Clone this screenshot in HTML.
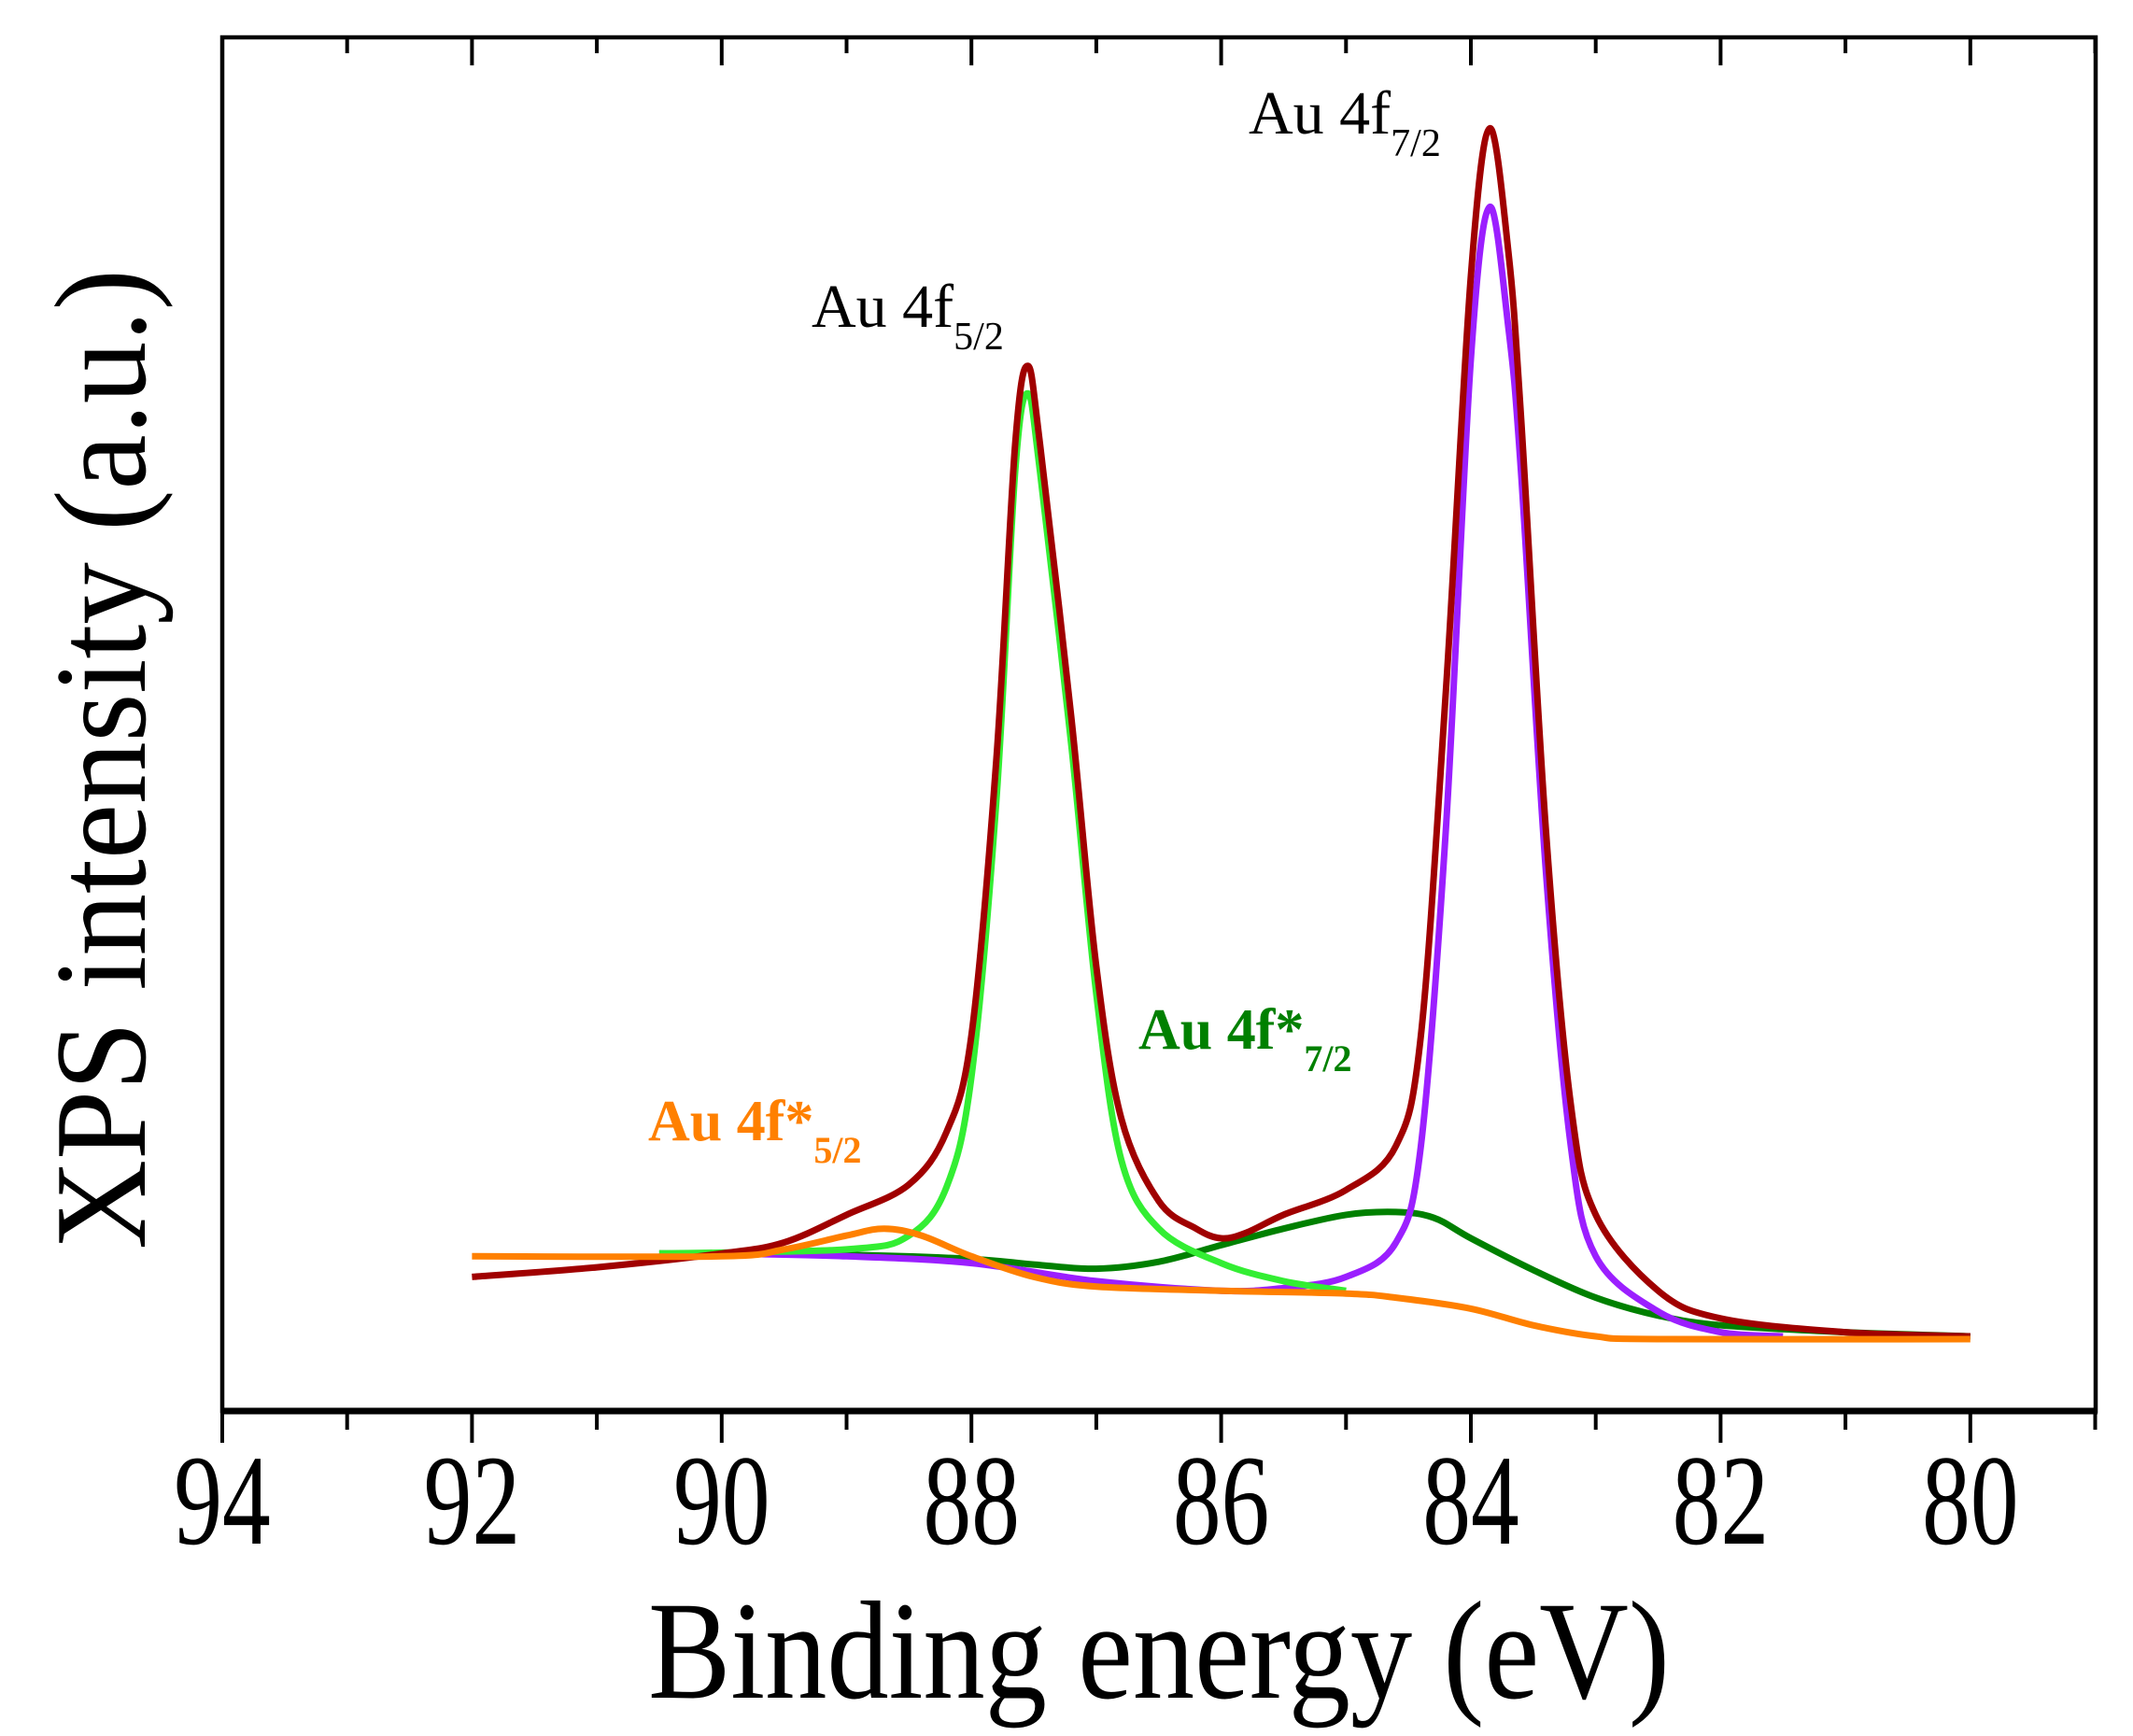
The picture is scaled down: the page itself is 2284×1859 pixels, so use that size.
<!DOCTYPE html>
<html><head><meta charset="utf-8"><style>
html,body{margin:0;padding:0;background:#fff}
svg{display:block}
</style></head><body>
<svg id="chart" width="2284" height="1859" viewBox="0 0 2284 1859" xmlns="http://www.w3.org/2000/svg" font-family="'Liberation Serif', serif">
<rect x="0" y="0" width="2284" height="1859" fill="#fff"/>
<g id="ticks"></g>
<g id="tick-labels"></g>
<g id="series"></g>
<rect x="238" y="40" width="2006" height="1471" fill="none" stroke="#000" stroke-width="4.5"/>
<line x1="236" y1="1511" x2="2246" y2="1511" stroke="#000" stroke-width="7"/>
<text x="1241" y="1818" font-size="150" text-anchor="middle" textLength="1094" lengthAdjust="spacingAndGlyphs">Binding energy (eV)</text>
<text transform="translate(155,813) rotate(-90)" font-size="140" text-anchor="middle" textLength="1050" lengthAdjust="spacingAndGlyphs">XPS intensity (a.u.)</text>
<text x="1337" y="143" font-size="66" fill="#000">Au 4f<tspan font-size="42" dy="24">7/2</tspan></text>
<text x="869" y="350" font-size="66" fill="#000">Au 4f<tspan font-size="42" dy="24">5/2</tspan></text>
<text x="1219" y="1123" font-size="62" font-weight="bold" fill="#008000">Au 4f*<tspan font-size="40" dy="24">7/2</tspan></text>
<text x="694" y="1221" font-size="62" font-weight="bold" fill="#ff8000">Au 4f*<tspan font-size="40" dy="24">5/2</tspan></text>
</svg>
<script>
const tickValues = [94,93,92,91,90,89,88,87,86,85,84,83,82,81,80,79];
const tickLabels = ["94","92","90","88","86","84","82","80"];
const labelValues = [94,92,90,88,86,84,82,80];
const totalX = [92,91,90,89.5,89,88.5,88.2,88,87.8,87.65,87.55,87.45,87.2,87,86.8,86.5,86.2,86,85.8,85.5,85,84.6,84.4,84.2,84.0,83.85,83.7,83.6,83.4,83.2,83,82.5,82,81,80];
const totalY = [97,104,114,122,142,164,202,272,472,700,757,700,502,322,212,152,132,125,129,142,160,192,272,522,822,929,840,722,422,222,142,87,67,57,54];
const f52X = [90.5,89,88.5,88.2,88,87.8,87.65,87.55,87.45,87.2,87,86.8,86.5,86,85.5,85];
const f52Y = [114,117,127,162,242,442,680,737,680,482,302,182,132,107,94,87];
const f72X = [90,89,88,87,86,85.5,85,84.6,84.4,84.2,84.0,83.85,83.7,83.6,83.4,83.2,83.0,82.5,82,81.5];
const f72Y = [114,112,107,94,87,89,97,122,192,422,762,872,785,682,392,192,112,72,57,54];
const s72X = [90.5,89,88,87.5,87,86.5,86,85.5,85,84.6,84.3,84,83.5,83,82.5,82,81,80];
const s72Y = [114,113,110,106,103,108,120,132,142,144,140,125,102,82,69,62,57,54];
const s52X = [92,90,89.5,89,88.7,88.4,88,87.5,87,86,85,84.6,84,83.5,83,82.5,80];
const s52Y = [112,112,117,127,132,127,112,97,90,87,85,82,74,62,54,52,52];

const NS = "http://www.w3.org/2000/svg";
const X0 = 238, PX_PER_EV = 133.7;
function xs(v){ return X0 + (94 - v) * PX_PER_EV; }
function ys(v){ return (1022 - v) * 1.4783; }

const tg = document.getElementById('ticks');
tickValues.forEach(v => {
  const major = (v % 2 === 0);
  const x = xs(v);
  const b = document.createElementNS(NS,'line');
  b.setAttribute('x1',x); b.setAttribute('x2',x);
  b.setAttribute('y1',1511); b.setAttribute('y2',1511 + (major?34:20));
  b.setAttribute('stroke','#000'); b.setAttribute('stroke-width','4');
  
  
  tg.appendChild(b);
  const t = document.createElementNS(NS,'line');
  t.setAttribute('x1',x); t.setAttribute('x2',x);
  t.setAttribute('y1',40); t.setAttribute('y2',40 + (major?30:17));
  t.setAttribute('stroke','#000'); t.setAttribute('stroke-width','4');
  
  
  tg.appendChild(t);
});
const lg = document.getElementById('tick-labels');
labelValues.forEach((v,i) => {
  const t = document.createElementNS(NS,'text');
  t.setAttribute('transform','translate('+xs(v)+',1653) scale(0.75,1)');
  t.setAttribute('font-size','138');
  t.setAttribute('text-anchor','middle');
  t.textContent = tickLabels[i];
  
  
  lg.appendChild(t);
});
const sg = document.getElementById('series');
function smoothPath(pts){
  let d = 'M' + pts[0][0].toFixed(1) + ',' + pts[0][1].toFixed(1);
  for (let i = 0; i < pts.length - 1; i++) {
    const p0 = pts[Math.max(0,i-1)], p1 = pts[i], p2 = pts[i+1], p3 = pts[Math.min(pts.length-1,i+2)];
    const c1x = p1[0] + (p2[0]-p0[0])/6, c1y = p1[1] + (p2[1]-p0[1])/6;
    const c2x = p2[0] - (p3[0]-p1[0])/6, c2y = p2[1] - (p3[1]-p1[1])/6;
    d += ' C' + c1x.toFixed(1)+','+c1y.toFixed(1)+' '+c2x.toFixed(1)+','+c2y.toFixed(1)+' '+p2[0].toFixed(1)+','+p2[1].toFixed(1);
  }
  return d;
}
function draw(X, Y, color, name){
  const p = document.createElementNS(NS,'path');
  p.setAttribute('d', smoothPath(X.map((x,i)=>[xs(x), ys(Y[i])])));
  p.setAttribute('fill','none'); p.setAttribute('stroke',color);
  p.setAttribute('stroke-width','7'); p.setAttribute('stroke-linejoin','round');
  
  
  sg.appendChild(p);
}
draw(s72X, s72Y, '#008000', 'series-au4fstar72');
draw(f72X, f72Y, '#9b1fff', 'series-au4f72');
draw(f52X, f52Y, '#33ee33', 'series-au4f52');
draw(totalX, totalY, '#a00000', 'series-total');
draw(s52X, s52Y, '#ff8000', 'series-au4fstar52');
</script>
</body></html>
